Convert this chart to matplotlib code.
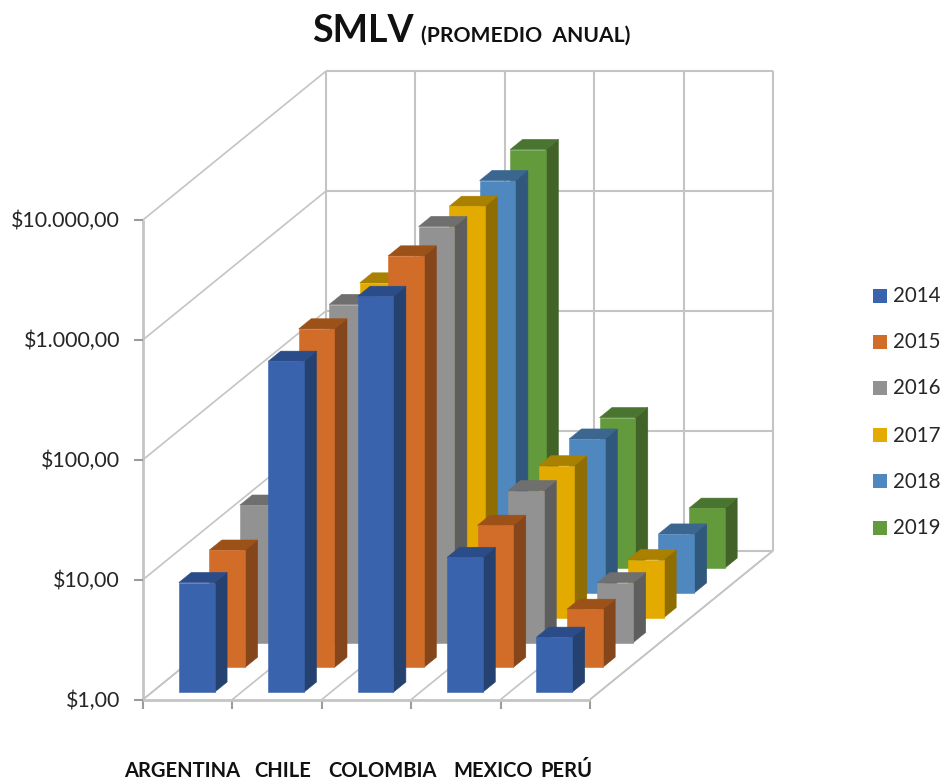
import matplotlib
matplotlib.use("Agg")
import numpy as np
import matplotlib.pyplot as plt
from matplotlib.patches import Polygon, Rectangle

categories = ["ARGENTINA", "CHILE", "COLOMBIA", "MEXICO", "PERÚ"]
years = ["2014", "2015", "2016", "2017", "2018", "2019"]
argentina = [8.2, 9.5, 14.0, None, None, None]
chile = [575, 665, 660, 620, None, None]
colombia = [2000, 2700, 2950, 2700, 2750, 3100]
mexico = [13.3, 15.3, 18.5, 18.5, 19.2, 18.0]
peru = [2.87, 3.05, 3.16, 3.05, 3.1, 3.16]
series_by_cat = [argentina, chile, colombia, mexico, peru]
y_ticks = [1, 10, 100, 1000, 10000]
y_labels = ["$1,00", "$10,00", "$100,00", "$1.000,00", "$10.000,00"]
front_colors = ["#3A63AD", "#D26C29", "#929292", "#E3AA00", "#4F87BF", "#629A3C"]
side_colors = ["#254170", "#84461A", "#5E5E5E", "#8F6D00", "#30587C", "#416328"]
top_colors = ["#2A4C88", "#9C5119", "#6F6F6F", "#A98000", "#3A6690", "#4A7530"]

W, H = 942, 780
X0, Y0 = 143.0, 699.5      # front-left floor corner, in pixels
CAT_W = 89.4               # pixels per category
SER_DX, SER_DY = 30.5, -24.8   # pixels per series along the depth axis
DEC = 119.9                # pixels per decade
BAR_W = 0.40               # share of a category
BAR_D = 0.41               # share of a series slot
GRID = "#C4C4C4"


def project(cat, ser, val):
    """(category position, series position, value) -> pixel."""
    z = np.log10(val)
    return (X0 + cat * CAT_W + ser * SER_DX, Y0 + ser * SER_DY - z * DEC)


fig = plt.figure(figsize=(W / 100, H / 100), dpi=100)
ax = fig.add_axes([0, 0, 1, 1])
ax.set_xlim(0, W)
ax.set_ylim(H, 0)
ax.axis("off")

ncat, nser = len(categories), len(years)
vmax = y_ticks[-1]


def line(a, b, lw=1.5, color=GRID, z=1):
    ax.plot([a[0], b[0]], [a[1], b[1]], color=color, lw=lw, zorder=z,
            solid_capstyle="butt")


# walls
for t in y_ticks:
    line(project(0, 0, t), project(0, nser, t), lw=1.2)
    line(project(0, nser, t), project(ncat, nser, t))
line(project(ncat, 0, 1), project(ncat, nser, 1), lw=1.2)
for c in range(ncat + 1):
    line(project(c, nser, 1), project(c, nser, vmax))
    line(project(c, 0, 1), project(c, nser, 1), lw=1.2)
    px, py = project(c, 0, 1)
    line((px, py), (px, py + 9), color="#9C9C9C")
line(project(0, 0, 1), project(0, 0, vmax), lw=2)
line(project(0, 0, 1), project(ncat, 0, 1), lw=2)

for t, lab in zip(y_ticks, y_labels):
    px, py = project(0, 0, t)
    line((px - 9, py), (px, py), color="#9C9C9C")
    ax.text(120, py + 1, lab, ha="right", va="center", fontsize=15.4,
            family="Lato", color="#262626")

# bars: rear rows first so the front rows hide them
zo = 2
for s in range(nser - 1, -1, -1):
    for c in range(ncat):
        v = series_by_cat[c][s]
        if v is None:
            continue
        cl, cr = c + 0.5 - BAR_W / 2, c + 0.5 + BAR_W / 2
        sf, sb = s + 0.5 - BAR_D / 2, s + 0.5 + BAR_D / 2
        front = [project(cl, sf, 1), project(cr, sf, 1),
                 project(cr, sf, v), project(cl, sf, v)]
        side = [project(cr, sf, 1), project(cr, sb, 1),
                project(cr, sb, v), project(cr, sf, v)]
        top = [project(cl, sf, v), project(cr, sf, v),
               project(cr, sb, v), project(cl, sb, v)]
        for pts, col in ((side, side_colors[s]), (top, top_colors[s]),
                         (front, front_colors[s])):
            ax.add_patch(Polygon(pts, closed=True, fc=col, ec=col, lw=0.4,
                                 zorder=zo))
        zo += 1

# category labels
cat_x = [182.5, 283, 382.5, 493, 566]
for x, lab in zip(cat_x, categories):
    ax.text(x, 771, lab, ha="center", va="center", fontsize=14.5,
            family="Lato", weight="bold", color="#111111")

# legend
leg_y = [296, 342, 388, 435, 481, 528]
for yy, lab, col in zip(leg_y, years, front_colors):
    ax.add_patch(Rectangle((873, yy - 7), 14, 14, fc=col, ec="none", zorder=50))
    ax.text(893, yy + 0.5, lab, ha="left", va="center", fontsize=14.8,
            family="Lato", color="#262626")

# title
ax.text(312, 31, "SMLV", ha="left", va="center", fontsize=27, family="Lato",
        weight="bold", color="#111111")
ax.text(421, 36, "(PROMEDIO  ANUAL)", ha="left", va="center", fontsize=15.2,
        family="Lato", weight="bold", color="#111111")

fig.savefig("out.png", dpi=100)
